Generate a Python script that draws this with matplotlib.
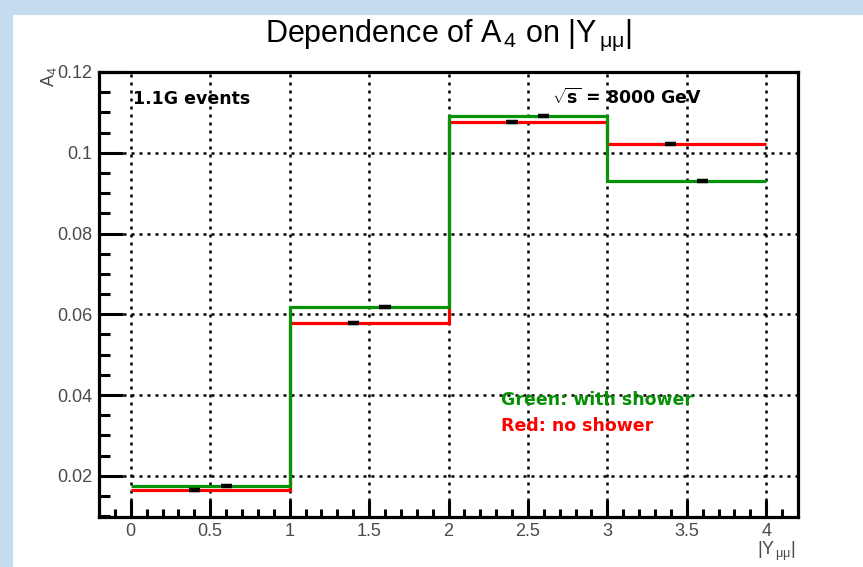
import numpy as np
import matplotlib
matplotlib.use("Agg")
import matplotlib.pyplot as plt
from matplotlib.patches import Rectangle

plt.rcParams['font.family'] = ['Liberation Sans', 'DejaVu Sans']
plt.rcParams['mathtext.fontset'] = 'custom'
plt.rcParams['mathtext.rm'] = 'Liberation Sans'
plt.rcParams['mathtext.it'] = 'Liberation Sans'
plt.rcParams['mathtext.bf'] = 'DejaVu Sans:bold'

# A4 per |Y_mumu| bin
bin_edges = [0, 1, 2, 3, 4]
a4_shower = [0.0176, 0.0618, 0.1092, 0.0931]
a4_noshower = [0.0165, 0.0579, 0.1075, 0.1022]

x_ticks = [0, 0.5, 1, 1.5, 2, 2.5, 3, 3.5, 4]
y_ticks = [0.02, 0.04, 0.06, 0.08, 0.1, 0.12]

W, H = 863, 567
fig = plt.figure(figsize=(W / 100, H / 100), dpi=100, facecolor='#c4dbf0')
fig.patches.append(Rectangle((13 / W, 0), 1, 1 - 15 / H, transform=fig.transFigure,
                             facecolor='white', edgecolor='none', zorder=-10))

ax = fig.add_axes([99 / W, 50 / H, 699 / W, 445 / H])
ax.set_xlim(-0.2, 4.2)
ax.set_ylim(0.0098, 0.12)

grid_style = dict(color='black', lw=1.8, linestyle=(0, (1.2, 2.0)), zorder=1)
for xv in x_ticks:
    ax.axvline(xv, **grid_style)
for yv in y_ticks[:-1]:
    ax.axhline(yv, **grid_style)

ax.stairs(a4_noshower, bin_edges, baseline=None, color='#ff0000', lw=2.3, zorder=3)
ax.stairs(a4_shower, bin_edges, baseline=None, color='#079307', lw=2.3, zorder=4)

centers = (np.array(bin_edges[:-1]) + np.array(bin_edges[1:])) / 2
ax.hlines(a4_noshower, centers - 0.135, centers - 0.065, color='black', lw=3.2, zorder=5)
ax.hlines(a4_shower, centers + 0.065, centers + 0.135, color='black', lw=3.2, zorder=5)

for s in ['top', 'right', 'bottom', 'left']:
    ax.spines[s].set_linewidth(2.3)
    ax.spines[s].set_zorder(6)

ax.set_xticks(x_ticks)
ax.set_xticklabels([f"{v:g}" for v in x_ticks])
ax.set_yticks(y_ticks)
ax.set_yticklabels([f"{v:g}" for v in y_ticks])
ax.set_xticks(np.arange(-0.1, 4.2, 0.1), minor=True)
ax.set_yticks(np.arange(0.01, 0.12, 0.005), minor=True)
ax.tick_params(axis='x', which='major', direction='in', length=12, width=2.2,
               labelsize=13, labelcolor='#4a4a4a', pad=4)
ax.tick_params(axis='x', which='minor', direction='in', length=5.5, width=2.2)
ax.tick_params(axis='y', which='major', direction='in', length=17, width=2.2,
               labelsize=13, labelcolor='#4a4a4a', pad=5)
ax.tick_params(axis='y', which='minor', direction='in', length=8, width=2.2)

lab = dict(fontsize=12.5, fontweight='bold', family='DejaVu Sans', va='baseline')
ax.text(0.013, 0.1121, "1.1G events", **lab)
ax.text(2.65, 0.1121, r"$\sqrt{\mathbf{s}}$ = 8000 GeV", **lab)
ax.text(2.33, 0.0376, "Green: with shower", color='#078f07', **lab)
ax.text(2.33, 0.0311, "Red: no shower", color='#ff0000', **lab)

fig.text(448.5 / W, 1 - 42 / H, r"Dependence of A$_{\,4}$ on |Y$_{\,\mu\mu}$|",
         fontsize=22, ha='center', va='baseline')
fig.text(49 / W, 1 - 66 / H, r"A$_{4}$", fontsize=13, rotation=90, color='#4a4a4a',
         ha='center', va='top')
fig.text(796 / W, 1 - 555 / H, r"|Y$_{\,\mu\mu}$|", fontsize=13, color='#4a4a4a',
         ha='right', va='baseline')

fig.savefig("out.png", dpi=100, facecolor=fig.get_facecolor())
